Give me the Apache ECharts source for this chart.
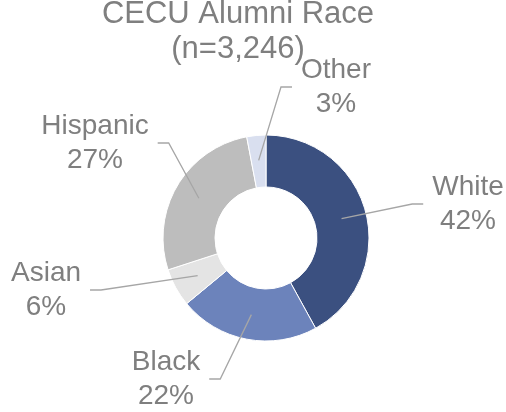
<!DOCTYPE html>
<html>
<head>
<meta charset="utf-8">
<script src="https://cdn.jsdelivr.net/npm/echarts@6/dist/echarts.min.js"></script>
<style>html,body{margin:0;padding:0;background:#fff;}#c{width:506px;height:412px;}</style>
</head>
<body>
<div id="c"></div>
<script>
// ---- data ----
var categories = ['White', 'Black', 'Asian', 'Hispanic', 'Other'];
var values = [42, 22, 6, 27, 3];
var colors = ['#3B5080', '#6C83BB', '#E4E4E4', '#BDBDBD', '#D9DFEF'];
var titleText = 'CECU Alumni Race';
var subtitleText = '(n=3,246)';

// label block centres (layout only)
var labelPos = {
  White: [468, 204],
  Black: [166, 379],
  Asian: [46, 290],
  Hispanic: [95, 143],
  Other: [336, 87]
};

var chart = echarts.init(document.getElementById('c'), null, {renderer: 'canvas'});
var font = 'Liberation Sans, Arial, sans-serif';
var textColor = '#7F7F7F';
var center = [266, 238];

var data = categories.map(function (c, i) {
  return {name: c, value: values[i], itemStyle: {color: colors[i]}};
});

chart.setOption({
  animation: false,
  title: {
    text: titleText + '\n' + subtitleText,
    left: 238,
    top: -3,
    padding: 0,
    textAlign: 'center',
    textStyle: {fontFamily: font, fontSize: 31, fontWeight: 'normal', color: textColor, lineHeight: 35}
  },
  series: [
    {
      type: 'pie',
      center: center,
      radius: [51, 103],
      startAngle: 90,
      clockwise: true,
      silent: true,
      itemStyle: {borderColor: '#ffffff', borderWidth: 1},
      label: {show: false},
      labelLine: {show: false},
      data: data
    },
    {
      // invisible overlay used only to anchor labels inside the ring
      type: 'pie',
      center: center,
      radius: [0, 78],
      startAngle: 90,
      clockwise: true,
      silent: true,
      z: 5,
      itemStyle: {color: 'rgba(0,0,0,0)', borderWidth: 0},
      label: {
        show: true,
        position: 'outside',
        formatter: function (p) { return p.name + '\n' + Math.round(p.percent) + '%'; },
        fontFamily: font,
        fontSize: 28,
        lineHeight: 34,
        color: textColor,
        align: 'center'
      },
      labelLine: {show: true, length: 10, length2: 10, lineStyle: {color: '#A6A6A6', width: 1.3}},
      labelLayout: function (p) {
        var name = categories[p.dataIndex];
        var pos = labelPos[name];
        var w = p.labelRect.width;
        var start = p.labelLinePoints[0];
        var isRight = pos[0] > center[0];
        var edge = isRight ? pos[0] - w / 2 - 9 : pos[0] + w / 2 + 9;
        var mid = isRight ? edge - 11 : edge + 11;
        return {
          x: pos[0],
          y: pos[1],
          align: 'center',
          verticalAlign: 'middle',
          labelLinePoints: [start, [mid, pos[1]], [edge, pos[1]]]
        };
      },
      data: data.map(function (d) { return {name: d.name, value: d.value}; })
    }
  ]
});
</script>
</body>
</html>
